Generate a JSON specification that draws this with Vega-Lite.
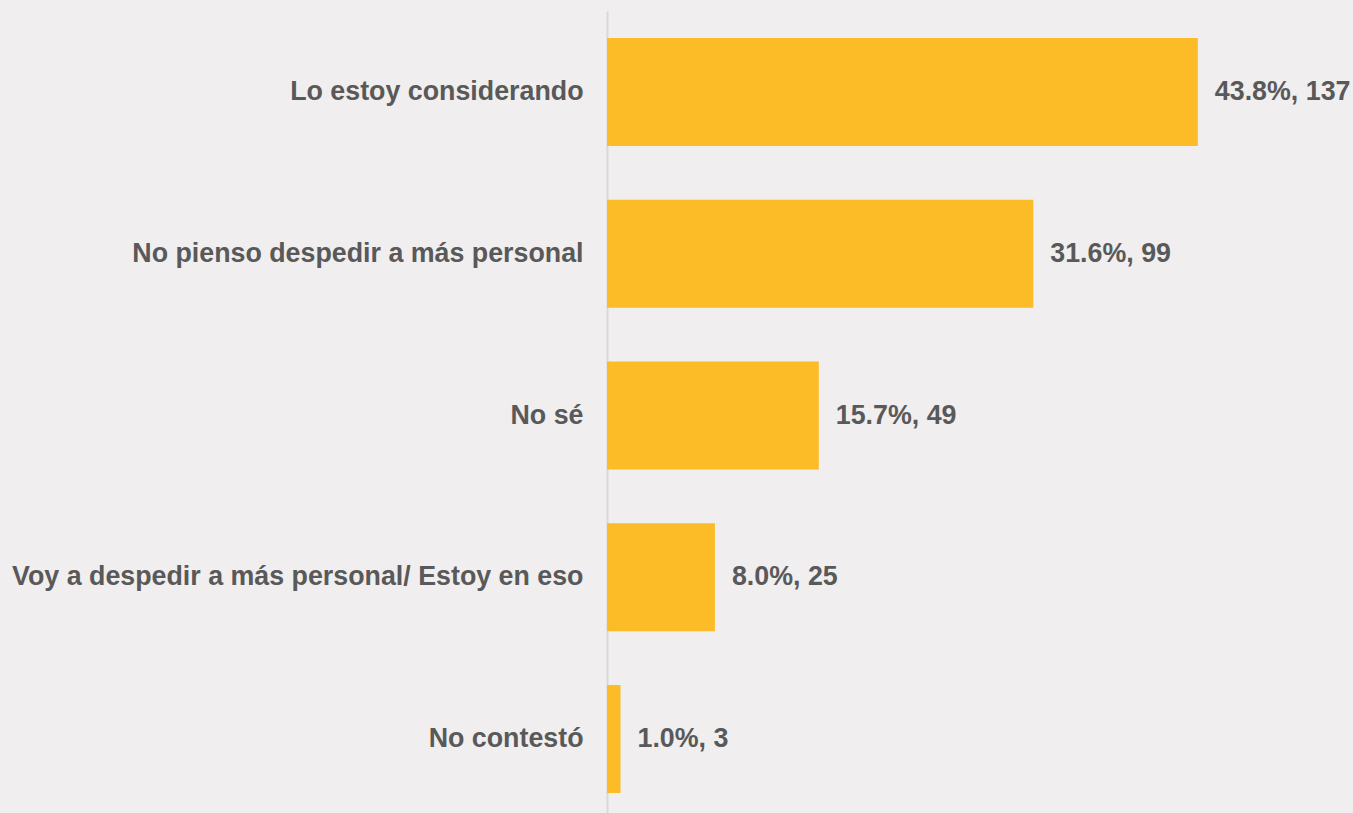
{
  "$schema": "https://vega.github.io/schema/vega-lite/v6.json",
  "width": 746,
  "height": 809,
  "autosize": {"type": "none"},
  "padding": {"left": 607, "top": 11, "right": 0, "bottom": 0},
  "background": "#F0EEEF",
  "config": {"view": {"stroke": null}, "font": "Liberation Sans"},
  "data": {"values": [
    {"cat": "Lo estoy considerando", "pct": 43.8, "n": 137, "label": "43.8%, 137"},
    {"cat": "No pienso despedir a más personal", "pct": 31.6, "n": 99, "label": "31.6%, 99"},
    {"cat": "No sé", "pct": 15.7, "n": 49, "label": "15.7%, 49"},
    {"cat": "Voy a despedir a más personal/ Estoy en eso", "pct": 8.0, "n": 25, "label": "8.0%, 25"},
    {"cat": "No contestó", "pct": 1.0, "n": 3, "label": "1.0%, 3"}
  ]},
  "encoding": {
    "y": {
      "field": "cat", "type": "nominal", "sort": null,
      "scale": {"paddingInner": 0.332, "paddingOuter": 0.167},
      "axis": {
        "title": null, "ticks": false, "labelPadding": 24,
        "labelFont": "Liberation Sans", "labelFontSize": 26.8, "labelFontWeight": "bold",
        "labelColor": "#595959", "domainColor": "#D9D9D9", "domainWidth": 2,
        "labelLimit": 700
      }
    },
    "x": {
      "field": "pct", "type": "quantitative",
      "scale": {"domain": [0, 55.3], "nice": false},
      "axis": null
    }
  },
  "layer": [
    {"mark": {"type": "bar", "color": "#FBBC28"}},
    {
      "mark": {"type": "text", "align": "left", "baseline": "middle", "dx": 17,
        "font": "Liberation Sans", "fontSize": 26.8, "fontWeight": "bold", "color": "#595959"},
      "encoding": {"text": {"field": "label"}}
    }
  ]
}
